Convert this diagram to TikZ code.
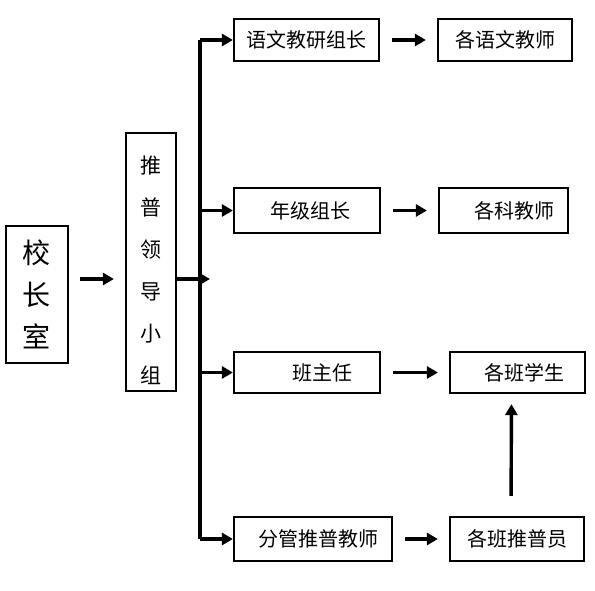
\documentclass[tikz,border=0pt]{standalone}
\usepackage{fontspec}
\newfontfamily\cjk{Noto Sans CJK SC}
\usetikzlibrary{arrows.meta}
\tikzset{every node/.style={font=\cjk\fontsize{20}{24}\selectfont},
  box/.style={draw,line width=2.2pt,inner sep=0pt},
  rowbox/.style={box,minimum height=42pt},
  arrow/.style={line width=3.4pt,-{Triangle[length=11pt,width=12pt]}},
  gap/.style={arrow,shorten <=12pt,shorten >=11pt},
  trunk/.style={line width=4pt}}
\begin{document}
\begin{tikzpicture}[x=1pt,y=-1pt]
\useasboundingbox (0,0) rectangle (595,590);
% left part
\node[box,minimum width=62pt,minimum height=137pt,align=center,
      font=\cjk\fontsize{28}{42}\selectfont] (office) at (37,294.5) {校\\长\\室};
\node[box,minimum width=50pt,minimum height=258pt,align=center,
      font=\cjk\fontsize{21}{42}\selectfont] (lead) at (151,262)
      {\rule{0pt}{34pt}推\\普\\领\\导\\小\\组};
% middle column
\node[rowbox,minimum width=145pt] (yuwen) at (306.5,40) {语文教研组长};
\node[rowbox,minimum width=146pt,minimum height=45pt] (nianji) at (307,210.5) {\hspace*{6pt}年级组长};
\node[rowbox,minimum width=146pt,minimum height=41pt] (banzhu) at (307,372.5) {\hspace*{30pt}班主任};
\node[rowbox,minimum width=158pt,minimum height=44pt] (fenguan) at (313,539) {\hspace*{10pt}分管推普教师};
% right column
\node[rowbox,minimum width=134pt] (geyuwen) at (505,40) {各语文教师};
\node[rowbox,minimum width=129pt,minimum height=45pt] (geke) at (503.5,210.5) {\hspace*{22pt}各科教师};
\node[rowbox,minimum width=135pt,minimum height=41pt] (xuesheng) at (517.5,372.5) {\hspace*{14pt}各班学生};
\node[rowbox,minimum width=134pt,minimum height=44pt] (tuipuyuan) at (517,539) {各班推普员};
% connectors
\coordinate (bus) at (200,279);
\coordinate (bustip) at (210,279);
\draw[gap,shorten <=11pt] (office.east |- bus) -- (lead.west |- bus);
\draw[arrow] (lead.east |- bus) -- (bustip);
\draw[trunk] (yuwen.west -| bus) -- (fenguan.west -| bus);
\foreach \n in {yuwen,nianji,banzhu,fenguan}
  \draw[arrow] (\n.west -| bus) -- (\n.west);
\draw[gap] (yuwen.east) -- (geyuwen.west);
\draw[gap] (nianji.east) -- (geke.west);
\draw[gap] (banzhu.east) -- (xuesheng.west);
\draw[gap] (fenguan.east) -- (tuipuyuan.west);
\draw[arrow,shorten <=20pt,shorten >=10pt]
  ([xshift=-6pt]tuipuyuan.north) -- ([xshift=-6pt]xuesheng.south);
\end{tikzpicture}
\end{document}
